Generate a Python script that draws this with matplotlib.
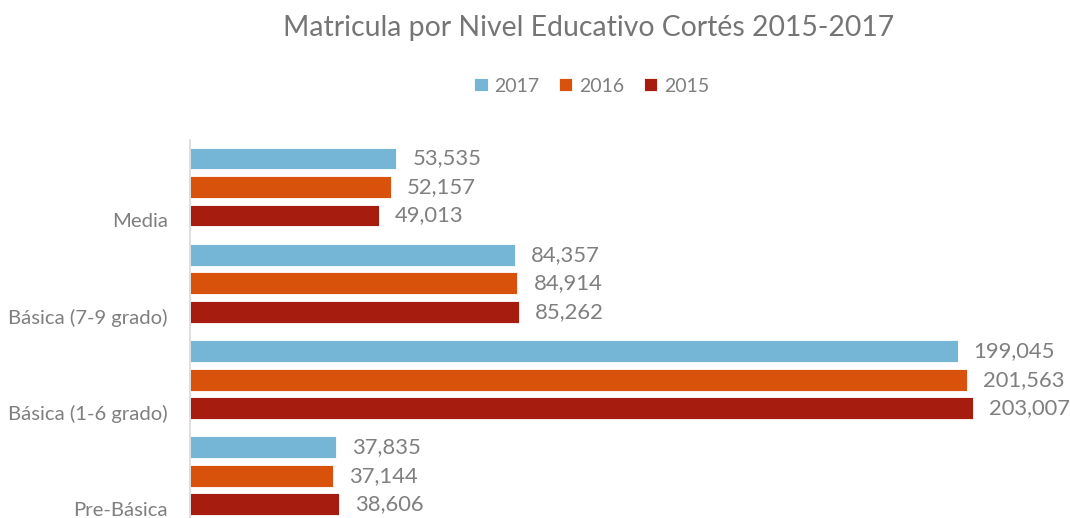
import matplotlib.pyplot as plt
import numpy as np

plt.rcParams["font.family"] = ["Lato", "DejaVu Sans"]

categories = ["Media", "Básica (7-9 grado)", "Básica (1-6 grado)", "Pre-Básica"]
years = ["2017", "2016", "2015"]
v2017 = [53535, 84357, 199045, 37835]
v2016 = [52157, 84914, 201563, 37144]
v2015 = [49013, 85262, 203007, 38606]
colors = ["#75B5D6", "#D9520B", "#A61C0E"]
grey = "#7F7F7F"

fig = plt.figure(figsize=(10.70, 5.18), dpi=100)
ax = fig.add_axes([190 / 1070, 0, 0.811, 1 - 140 / 518])

pos = np.arange(len(categories))
step = 0.296
height = 0.228
series = [v2017, v2016, v2015]
for k, (vals, col, yr) in enumerate(zip(series, colors, years)):
    y = pos + (k - 1) * step
    ax.barh(y, vals, height=height, color=col, edgecolor="white",
            linewidth=0.6, label=yr)
    for yy, v in zip(y, vals):
        ax.annotate(f"{v:,}", (v, yy), xytext=(11.5, 0), textcoords="offset points",
                    va="center", ha="left", fontsize=15.8, color=grey)

ax.set_xlim(0, 225000)
ax.set_ylim(3.437, -0.488)
ax.set_yticks(pos + step + 0.05)
ax.set_yticklabels(categories, fontsize=14.6, color=grey)
ax.tick_params(axis="y", length=0, pad=16)
ax.set_xticks([])
for s in ["top", "right", "bottom"]:
    ax.spines[s].set_visible(False)
ax.spines["left"].set_color("#D9D9D9")
ax.spines["left"].set_linewidth(1.2)

fig.text(0.55, 1 - 28 / 518, "Matricula por Nivel Educativo Cortés 2015-2017",
         ha="center", va="center", fontsize=20.4, color="#757575")
fig.legend(loc="center", bbox_to_anchor=(0.553, 1 - 86 / 518), ncol=3,
           frameon=False, fontsize=14, handlelength=0.68, handleheight=0.68,
           handletextpad=0.35, columnspacing=1.0, labelcolor=grey)

fig.savefig("out.png", dpi=100)
